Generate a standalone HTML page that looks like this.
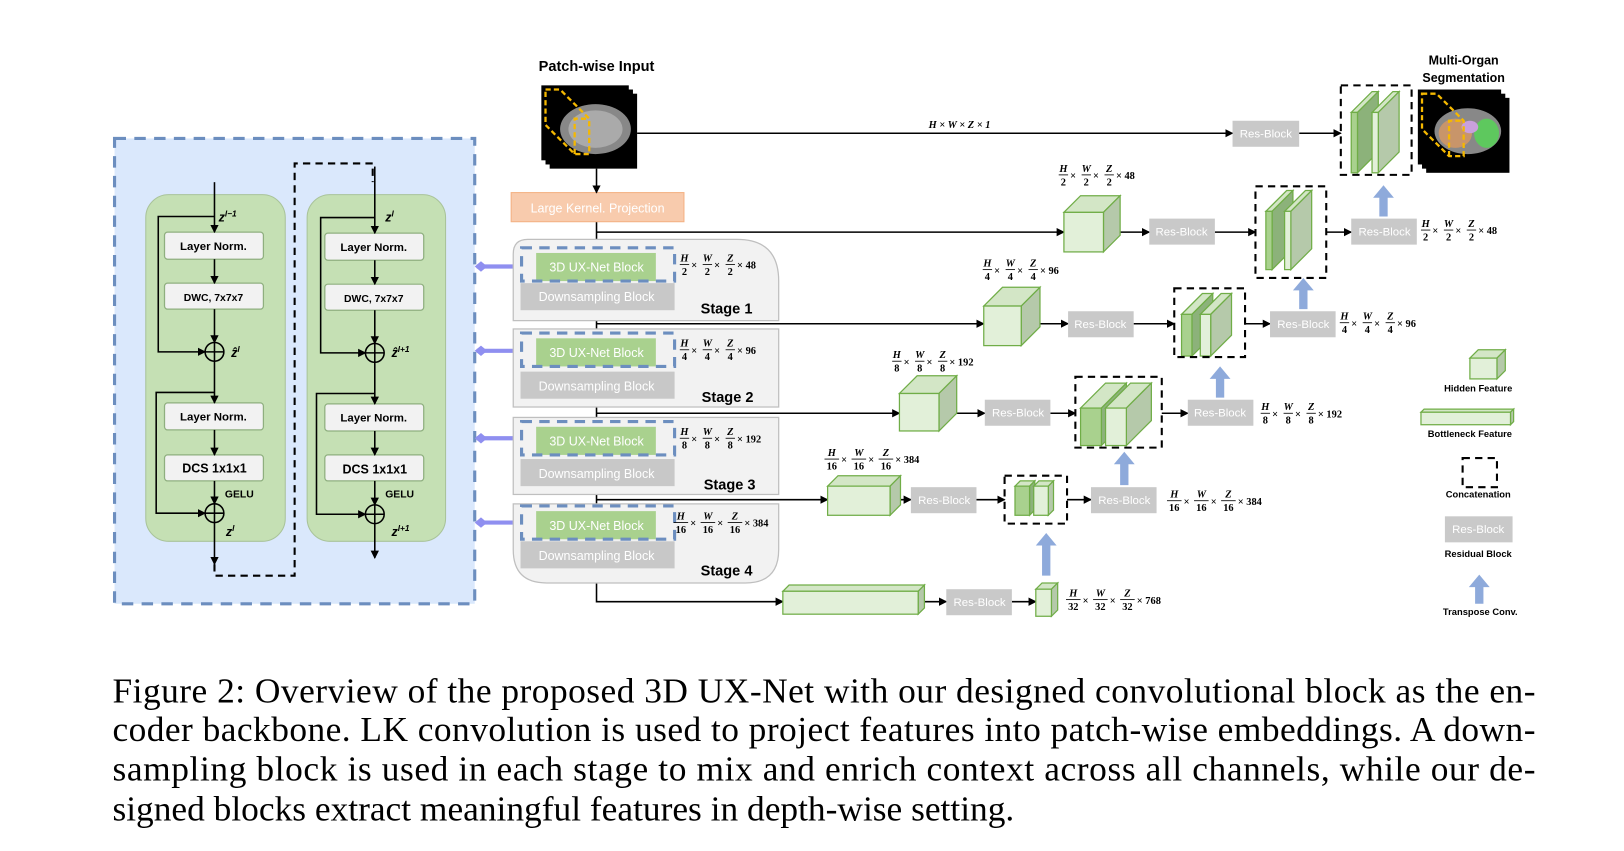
<!DOCTYPE html>
<html><head><meta charset="utf-8"><style>
html,body{margin:0;padding:0;background:#fff}
svg{display:block}
text{font-family:"Liberation Sans",sans-serif}
.b{font-weight:bold}
text.f{font-family:"Liberation Serif",serif;font-style:italic;font-weight:bold;font-size:10px}
text.n{font-family:"Liberation Serif",serif;font-weight:bold;font-size:10px}
.bx{fill:#f2f2f2;stroke:#8faf7f;stroke-width:1.2}
.rb{fill:#c9c9c9}
.rt{fill:#fff;font-size:11px;text-anchor:middle}
.ln{stroke:#000;stroke-width:1.5;fill:none}
.cf{fill:#e2f0d9;stroke:#70ad47;stroke-width:1.2}
.ct{fill:#d3e6c6;stroke:#70ad47;stroke-width:1.2}
.cs{fill:#b5c9aa;stroke:#70ad47;stroke-width:1.2}
.df{fill:#a9d18e;stroke:#70ad47;stroke-width:1.2}
.ds{fill:#8cb27a;stroke:#70ad47;stroke-width:1.2}
.cc{fill:none;stroke:#000;stroke-width:2;stroke-dasharray:7 5}
.cap text{font-family:"Liberation Serif",serif;font-size:34px}
</style></head><body>
<svg width="1624" height="851" viewBox="0 0 1560 817.5" xmlns="http://www.w3.org/2000/svg">
<defs>
<marker id="a" markerWidth="8" markerHeight="8" refX="7" refY="4" orient="auto" markerUnits="userSpaceOnUse"><path d="M0,0 L8,4 L0,8 z" fill="#000"/></marker>
</defs>
<rect x="110" y="133" width="346" height="447" fill="#dae8fc" stroke="#6c8ebf" stroke-width="3" stroke-dasharray="11 8"/>
<rect x="140" y="187" width="134" height="333" rx="22" fill="#c5e0b4" stroke="#a9c39a"/>
<rect x="295" y="187" width="133" height="333" rx="22" fill="#c5e0b4" stroke="#a9c39a"/>
<g font-size="11" class="b" text-anchor="middle">
<rect x="158" y="223" width="95" height="26" rx="3" class="bx"/><text x="205" y="240">Layer Norm.</text>
<rect x="158" y="272" width="95" height="25" rx="3" class="bx"/><text x="205" y="289" font-size="10">DWC, 7x7x7</text>
<rect x="158" y="387" width="95" height="26" rx="3" class="bx"/><text x="205" y="404">Layer Norm.</text>
<rect x="158" y="437" width="95" height="25" rx="3" class="bx"/><text x="206" y="454" font-size="12">DCS 1x1x1</text>
<rect x="312" y="224" width="95" height="26" rx="3" class="bx"/><text x="359" y="241">Layer Norm.</text>
<rect x="312" y="273" width="95" height="25" rx="3" class="bx"/><text x="359" y="290" font-size="10">DWC, 7x7x7</text>
<rect x="312" y="388" width="95" height="26" rx="3" class="bx"/><text x="359" y="405">Layer Norm.</text>
<rect x="312" y="437" width="95" height="25" rx="3" class="bx"/><text x="360" y="455" font-size="12">DCS 1x1x1</text>
</g>
<g class="ln">
<path d="M206,175 V223" marker-end="url(#a)"/><path d="M206,249 V272" marker-end="url(#a)"/><path d="M206,297 V329" marker-end="url(#a)"/>
<path d="M206,347 V387" marker-end="url(#a)"/><path d="M206,413 V437" marker-end="url(#a)"/><path d="M206,462 V484" marker-end="url(#a)"/>
<path d="M206,502 V542" marker-end="url(#a)"/>
<path d="M206,208 H152 V338 H197" marker-end="url(#a)"/><path d="M206,377 H150 V493 H197" marker-end="url(#a)"/>
<circle cx="206" cy="338" r="9"/><path d="M197,338H215M206,329V347"/>
<circle cx="206" cy="493" r="9"/><path d="M197,493H215M206,484V502"/>
<path d="M360,160 V224" marker-end="url(#a)"/><path d="M360,250 V273" marker-end="url(#a)"/><path d="M360,298 V330" marker-end="url(#a)"/>
<path d="M360,348 V388" marker-end="url(#a)"/><path d="M360,414 V437" marker-end="url(#a)"/><path d="M360,462 V485" marker-end="url(#a)"/>
<path d="M360,503 V536" marker-end="url(#a)"/>
<path d="M360,209 H308 V339 H351" marker-end="url(#a)"/><path d="M360,378 H304 V494 H351" marker-end="url(#a)"/>
<circle cx="360" cy="339" r="9"/><path d="M351,339H369M360,330V348"/>
<circle cx="360" cy="494" r="9"/><path d="M351,494H369M360,485V503"/>
</g>
<path d="M206,542 V553 H283 V157 H358 V175" fill="none" stroke="#000" stroke-width="2" stroke-dasharray="7 5"/>
<g font-family="Liberation Serif,serif" font-weight="bold" font-style="italic" font-size="12">
<text x="210" y="213" font-family="Liberation Serif,serif">z<tspan font-size="8" dy="-5">l−1</tspan></text>
<text x="222" y="343" font-family="Liberation Serif,serif">ẑ<tspan font-size="8" dy="-5">l</tspan></text>
<text x="217" y="515" font-family="Liberation Serif,serif">z<tspan font-size="8" dy="-5">l</tspan></text>
<text x="370" y="213" font-family="Liberation Serif,serif">z<tspan font-size="8" dy="-5">l</tspan></text>
<text x="376" y="343" font-family="Liberation Serif,serif">ẑ<tspan font-size="8" dy="-5">l+1</tspan></text>
<text x="376" y="515" font-family="Liberation Serif,serif">z<tspan font-size="8" dy="-5">l+1</tspan></text>
</g>
<text x="216" y="478" font-size="10" class="b">GELU</text><text x="370" y="478" font-size="10" class="b">GELU</text>
<g stroke="#8f8ff0" stroke-width="4" fill="#8f8ff0">
<path d="M458,256H500"/><path d="M458,337H500"/><path d="M458,421H500"/><path d="M458,502H500"/>
</g>
<g fill="#8f8ff0"><path d="M456,256l6,-5l6,5l-6,5z"/><path d="M456,337l6,-5l6,5l-6,5z"/><path d="M456,421l6,-5l6,5l-6,5z"/><path d="M456,502l6,-5l6,5l-6,5z"/>
<path d="M500,256l-6,-6v12z"/><path d="M500,337l-6,-6v12z"/><path d="M500,421l-6,-6v12z"/><path d="M500,502l-6,-6v12z"/></g>
<path class="ln" d="M573,213 V578 H752" marker-end="url(#a)"/>
<g fill="#f2f2f2" stroke="#bfbfbf" stroke-width="1.2">
<path d="M493,308 V244 Q493,230 507,230 H708 Q748,230 748,270 V308 Z"/>
<rect x="493" y="316" width="255" height="75"/>
<rect x="493" y="401" width="255" height="74"/>
<path d="M493,484 H748 V528 Q748,560 716,560 H525 Q493,560 493,528 Z"/>
</g>
<g>
<rect x="500" y="272" width="148" height="26" fill="#c8c8c8"/><rect x="500" y="357" width="148" height="26" fill="#c8c8c8"/>
<rect x="500" y="441" width="148" height="26" fill="#c8c8c8"/><rect x="500" y="520" width="148" height="26" fill="#c8c8c8"/>
<rect x="515" y="243" width="115" height="27" fill="#a9d18e"/><rect x="515" y="325" width="115" height="27" fill="#a9d18e"/>
<rect x="515" y="410" width="115" height="27" fill="#a9d18e"/><rect x="515" y="491" width="115" height="27" fill="#a9d18e"/>
</g>
<g fill="none" stroke="#6c8ebf" stroke-width="3" stroke-dasharray="10 7">
<rect x="501" y="238" width="147" height="32"/><rect x="501" y="320" width="147" height="32"/>
<rect x="501" y="405" width="147" height="32"/><rect x="501" y="486" width="147" height="32"/>
</g>
<g fill="#fff" font-size="12" text-anchor="middle">
<text x="573" y="261">3D UX-Net Block</text><text x="573" y="343">3D UX-Net Block</text>
<text x="573" y="428">3D UX-Net Block</text><text x="573" y="509">3D UX-Net Block</text>
<text x="573" y="289">Downsampling Block</text><text x="573" y="375">Downsampling Block</text>
<text x="573" y="459">Downsampling Block</text><text x="573" y="538">Downsampling Block</text>
</g>
<g class="b" font-size="14"><text x="673" y="301">Stage 1</text><text x="674" y="386">Stage 2</text><text x="676" y="470">Stage 3</text><text x="673" y="553">Stage 4</text></g>
<text x="573" y="68" class="b" font-size="14" text-anchor="middle">Patch-wise Input</text>
<rect x="528" y="90" width="84" height="72" fill="#000"/><rect x="524" y="86" width="84" height="72" fill="#000"/><rect x="520" y="82" width="84" height="72" fill="#000"/>
<ellipse cx="572" cy="124" rx="34" ry="24" fill="#888"/><ellipse cx="572" cy="124" rx="26" ry="18" fill="#aaa"/>
<path d="M524,86 H538 L566,114 V148 H552 L524,120 Z M552,148 V114 H566" fill="none" stroke="#f5b800" stroke-width="2.2" stroke-dasharray="5 3"/>
<rect x="491" y="185" width="166" height="28" fill="#f8cbad" stroke="#f4b183"/>
<text x="574" y="204" fill="#fff" font-size="12" text-anchor="middle">Large Kernel. Projection</text>
<g class="ln">
<path d="M573,162 V185" marker-end="url(#a)"/>
<path d="M612,128 H1184" marker-end="url(#a)"/>
<path d="M1248,128 H1288" marker-end="url(#a)"/>
<path d="M573,223 H1022" marker-end="url(#a)"/>
<path d="M1060,223 H1104" marker-end="url(#a)"/>
<path d="M1167,223 H1206" marker-end="url(#a)"/>
<path d="M1274,223 H1298" marker-end="url(#a)"/>
<path d="M573,311 H945" marker-end="url(#a)"/>
<path d="M981,311 H1026" marker-end="url(#a)"/>
<path d="M1089,311 H1128" marker-end="url(#a)"/>
<path d="M1196,311 H1220" marker-end="url(#a)"/>
<path d="M573,397 H864" marker-end="url(#a)"/>
<path d="M902,397 H946" marker-end="url(#a)"/>
<path d="M1009,397 H1033" marker-end="url(#a)"/>
<path d="M1116,397 H1141" marker-end="url(#a)"/>
<path d="M573,480 H795" marker-end="url(#a)"/>
<path d="M855,480 H875" marker-end="url(#a)"/>
<path d="M938,480 H965" marker-end="url(#a)"/>
<path d="M1025,480 H1048" marker-end="url(#a)"/>
<path d="M888,578 H909" marker-end="url(#a)"/>
<path d="M972,578 H995" marker-end="url(#a)"/>
</g>
<text x="892" y="123" class="f" font-size="11">H × W × Z × 1</text>
<g>
<path class="ct" d="M1022,204 L1038,188 H1076 L1060,204 Z"/><path class="cs" d="M1060,204 L1076,188 V226 L1060,242 Z"/><rect class="cf" x="1022" y="204" width="38" height="38"/>
<path class="ct" d="M945,294 L963,276 H999 L981,294 Z"/><path class="cs" d="M981,294 L999,276 V314 L981,332 Z"/><rect class="cf" x="945" y="294" width="36" height="38"/>
<path class="ct" d="M864,378 L881,361 H919 L902,378 Z"/><path class="cs" d="M902,378 L919,361 V397 L902,414 Z"/><rect class="cf" x="864" y="378" width="38" height="36"/>
<path class="ct" d="M795,467 L805,457 H865 L855,467 Z"/><path class="cs" d="M855,467 L865,457 V485 L855,495 Z"/><rect class="cf" x="795" y="467" width="60" height="28"/>
<path class="ct" d="M752,568 L758,562 H888 L882,568 Z"/><path class="cs" d="M882,568 L888,562 V584 L882,590 Z"/><rect class="cf" x="752" y="568" width="130" height="22"/>
<path class="ct" d="M995,566 L1001,560 H1016 L1010,566 Z"/><path class="cs" d="M1010,566 L1016,560 V586 L1010,592 Z"/><rect class="cf" x="995" y="566" width="15" height="26"/>
<path class="ct" d="M1412,344 L1420,336 H1446 L1438,344 Z"/><path class="cs" d="M1438,344 L1446,336 V356 L1438,364 Z"/><rect class="cf" x="1412" y="344" width="26" height="20"/>
<path class="ct" d="M1365,396 L1368,393 H1454 L1451,396 Z"/><path class="cs" d="M1451,396 L1454,393 V405 L1451,408 Z"/><rect class="cf" x="1365" y="396" width="86" height="12"/>
</g>
<g>
<path class="ct" d="M1298,108 L1318,88 H1324 L1304,108Z"/><path class="ds" d="M1304,108 L1324,88 V146 L1304,166Z"/><rect class="df" x="1298" y="108" width="6" height="58"/>
<path class="ct" d="M1318,108 L1338,88 H1344 L1324,108Z"/><path class="cs" d="M1324,108 L1344,88 V146 L1324,166Z"/><rect class="cf" x="1318" y="108" width="6" height="58"/>
<path class="ct" d="M1216,203 L1236,183 H1242 L1222,203Z"/><path class="ds" d="M1222,203 L1242,183 V239 L1222,259Z"/><rect class="df" x="1216" y="203" width="6" height="56"/>
<path class="ct" d="M1234,203 L1254,183 H1260 L1240,203Z"/><path class="cs" d="M1240,203 L1260,183 V239 L1240,259Z"/><rect class="cf" x="1234" y="203" width="6" height="56"/>
<path class="ct" d="M1135,302 L1155,282 H1165 L1145,302Z"/><path class="ds" d="M1145,302 L1165,282 V322 L1145,342Z"/><rect class="df" x="1135" y="302" width="10" height="40"/>
<path class="ct" d="M1153,302 L1173,282 H1183 L1163,302Z"/><path class="cs" d="M1163,302 L1183,282 V322 L1163,342Z"/><rect class="cf" x="1153" y="302" width="10" height="40"/>
<path class="ct" d="M1038,392 L1062,368 H1082 L1058,392Z"/><path class="ds" d="M1058,392 L1082,368 V404 L1058,428Z"/><rect class="df" x="1038" y="392" width="20" height="36"/>
<path class="ct" d="M1062,392 L1086,368 H1106 L1082,392Z"/><path class="cs" d="M1082,392 L1106,368 V404 L1082,428Z"/><rect class="cf" x="1062" y="392" width="20" height="36"/>
<path class="ct" d="M975,467 L980,462 H994 L989,467Z"/><path class="ds" d="M989,467 L994,462 V490 L989,495Z"/><rect class="df" x="975" y="467" width="14" height="28"/>
<path class="ct" d="M993,467 L998,462 H1012 L1007,467Z"/><path class="cs" d="M1007,467 L1012,462 V490 L1007,495Z"/><rect class="cf" x="993" y="467" width="14" height="28"/>
</g>
<rect class="cc" x="1288" y="82" width="68" height="86"/>
<rect class="cc" x="1206" y="179" width="68" height="88"/>
<rect class="cc" x="1128" y="277" width="68" height="66"/>
<rect class="cc" x="1033" y="362" width="83" height="68"/>
<rect class="cc" x="965" y="457" width="60" height="46"/>
<rect class="cc" x="1405" y="440" width="33" height="28"/>
<g>
<rect class="rb" x="1184" y="116" width="64" height="25"/><text class="rt" x="1216" y="132">Res-Block</text>
<rect class="rb" x="1104" y="210" width="63" height="25"/><text class="rt" x="1135" y="226">Res-Block</text>
<rect class="rb" x="1298" y="210" width="63" height="25"/><text class="rt" x="1330" y="226">Res-Block</text>
<rect class="rb" x="1026" y="299" width="63" height="25"/><text class="rt" x="1057" y="315">Res-Block</text>
<rect class="rb" x="1220" y="299" width="63" height="25"/><text class="rt" x="1252" y="315">Res-Block</text>
<rect class="rb" x="946" y="384" width="63" height="25"/><text class="rt" x="978" y="400">Res-Block</text>
<rect class="rb" x="1141" y="384" width="63" height="25"/><text class="rt" x="1172" y="400">Res-Block</text>
<rect class="rb" x="875" y="468" width="63" height="25"/><text class="rt" x="907" y="484">Res-Block</text>
<rect class="rb" x="1048" y="468" width="63" height="25"/><text class="rt" x="1080" y="484">Res-Block</text>
<rect class="rb" x="909" y="566" width="63" height="25"/><text class="rt" x="941" y="582">Res-Block</text>
<rect class="rb" x="1388" y="496" width="65" height="25"/><text class="rt" x="1420" y="512">Res-Block</text>
</g>
<g fill="#8eaadb">
<path d="M1325,208 V190 H1319 L1329,178 L1339,190 H1333 V208Z"/>
<path d="M1248,297 V279 H1242 L1252,267 L1262,279 H1256 V297Z"/>
<path d="M1168,382 V364 H1162 L1172,352 L1182,364 H1176 V382Z"/>
<path d="M1076,466 V446 H1070 L1080,434 L1090,446 H1084 V466Z"/>
<path d="M1001,553 V524 H995 L1005,512 L1015,524 H1009 V553Z"/>
<path d="M1417,580 V564 H1411 L1421,552 L1431,564 H1425 V580Z"/>
</g>
<text x="1406" y="62" class="b" font-size="12" text-anchor="middle">Multi-Organ</text>
<text x="1406" y="79" class="b" font-size="12" text-anchor="middle">Segmentation</text>
<rect x="1370" y="94" width="80" height="72" fill="#000"/><rect x="1366" y="90" width="80" height="72" fill="#000"/><rect x="1362" y="86" width="80" height="72" fill="#000"/>
<ellipse cx="1410" cy="126" rx="32" ry="22" fill="#888"/><ellipse cx="1398" cy="128" rx="16" ry="14" fill="#c8956a"/><ellipse cx="1428" cy="128" rx="12" ry="14" fill="#5ec85e"/><ellipse cx="1412" cy="122" rx="8" ry="6" fill="#c9a0dc"/>
<path d="M1366,90 H1380 L1406,116 V150 H1392 L1366,124 Z M1392,150 V116 H1406" fill="none" stroke="#f5b800" stroke-width="2.2" stroke-dasharray="5 3"/>
<g class="b" font-size="9" text-anchor="middle">
<text x="1420" y="376">Hidden Feature</text><text x="1412" y="420">Bottleneck Feature</text>
<text x="1420" y="478">Concatenation</text><text x="1420" y="535">Residual Block</text><text x="1422" y="591">Transpose Conv.</text>
</g>
<g stroke="#000" stroke-width="0.8">
<g transform="translate(653,255)"><text class="f" x="4.5" y="-4" stroke="none" text-anchor="middle">H</text><line x1="0" x2="9" y1="-1" y2="-1"/><text class="n" x="4.5" y="9" stroke="none" text-anchor="middle">2</text><text class="n" x="11" y="3" stroke="none">×</text><text class="f" x="26.5" y="-4" stroke="none" text-anchor="middle">W</text><line x1="22" x2="31" y1="-1" y2="-1"/><text class="n" x="26.5" y="9" stroke="none" text-anchor="middle">2</text><text class="n" x="33" y="3" stroke="none">×</text><text class="f" x="48.5" y="-4" stroke="none" text-anchor="middle">Z</text><line x1="44" x2="53" y1="-1" y2="-1"/><text class="n" x="48.5" y="9" stroke="none" text-anchor="middle">2</text><text class="n" x="55" y="3" stroke="none">× 48</text></g>
<g transform="translate(1017,169)"><text class="f" x="4.5" y="-4" stroke="none" text-anchor="middle">H</text><line x1="0" x2="9" y1="-1" y2="-1"/><text class="n" x="4.5" y="9" stroke="none" text-anchor="middle">2</text><text class="n" x="11" y="3" stroke="none">×</text><text class="f" x="26.5" y="-4" stroke="none" text-anchor="middle">W</text><line x1="22" x2="31" y1="-1" y2="-1"/><text class="n" x="26.5" y="9" stroke="none" text-anchor="middle">2</text><text class="n" x="33" y="3" stroke="none">×</text><text class="f" x="48.5" y="-4" stroke="none" text-anchor="middle">Z</text><line x1="44" x2="53" y1="-1" y2="-1"/><text class="n" x="48.5" y="9" stroke="none" text-anchor="middle">2</text><text class="n" x="55" y="3" stroke="none">× 48</text></g>
<g transform="translate(1365,222)"><text class="f" x="4.5" y="-4" stroke="none" text-anchor="middle">H</text><line x1="0" x2="9" y1="-1" y2="-1"/><text class="n" x="4.5" y="9" stroke="none" text-anchor="middle">2</text><text class="n" x="11" y="3" stroke="none">×</text><text class="f" x="26.5" y="-4" stroke="none" text-anchor="middle">W</text><line x1="22" x2="31" y1="-1" y2="-1"/><text class="n" x="26.5" y="9" stroke="none" text-anchor="middle">2</text><text class="n" x="33" y="3" stroke="none">×</text><text class="f" x="48.5" y="-4" stroke="none" text-anchor="middle">Z</text><line x1="44" x2="53" y1="-1" y2="-1"/><text class="n" x="48.5" y="9" stroke="none" text-anchor="middle">2</text><text class="n" x="55" y="3" stroke="none">× 48</text></g>
<g transform="translate(653,337)"><text class="f" x="4.5" y="-4" stroke="none" text-anchor="middle">H</text><line x1="0" x2="9" y1="-1" y2="-1"/><text class="n" x="4.5" y="9" stroke="none" text-anchor="middle">4</text><text class="n" x="11" y="3" stroke="none">×</text><text class="f" x="26.5" y="-4" stroke="none" text-anchor="middle">W</text><line x1="22" x2="31" y1="-1" y2="-1"/><text class="n" x="26.5" y="9" stroke="none" text-anchor="middle">4</text><text class="n" x="33" y="3" stroke="none">×</text><text class="f" x="48.5" y="-4" stroke="none" text-anchor="middle">Z</text><line x1="44" x2="53" y1="-1" y2="-1"/><text class="n" x="48.5" y="9" stroke="none" text-anchor="middle">4</text><text class="n" x="55" y="3" stroke="none">× 96</text></g>
<g transform="translate(944,260)"><text class="f" x="4.5" y="-4" stroke="none" text-anchor="middle">H</text><line x1="0" x2="9" y1="-1" y2="-1"/><text class="n" x="4.5" y="9" stroke="none" text-anchor="middle">4</text><text class="n" x="11" y="3" stroke="none">×</text><text class="f" x="26.5" y="-4" stroke="none" text-anchor="middle">W</text><line x1="22" x2="31" y1="-1" y2="-1"/><text class="n" x="26.5" y="9" stroke="none" text-anchor="middle">4</text><text class="n" x="33" y="3" stroke="none">×</text><text class="f" x="48.5" y="-4" stroke="none" text-anchor="middle">Z</text><line x1="44" x2="53" y1="-1" y2="-1"/><text class="n" x="48.5" y="9" stroke="none" text-anchor="middle">4</text><text class="n" x="55" y="3" stroke="none">× 96</text></g>
<g transform="translate(1287,311)"><text class="f" x="4.5" y="-4" stroke="none" text-anchor="middle">H</text><line x1="0" x2="9" y1="-1" y2="-1"/><text class="n" x="4.5" y="9" stroke="none" text-anchor="middle">4</text><text class="n" x="11" y="3" stroke="none">×</text><text class="f" x="26.5" y="-4" stroke="none" text-anchor="middle">W</text><line x1="22" x2="31" y1="-1" y2="-1"/><text class="n" x="26.5" y="9" stroke="none" text-anchor="middle">4</text><text class="n" x="33" y="3" stroke="none">×</text><text class="f" x="48.5" y="-4" stroke="none" text-anchor="middle">Z</text><line x1="44" x2="53" y1="-1" y2="-1"/><text class="n" x="48.5" y="9" stroke="none" text-anchor="middle">4</text><text class="n" x="55" y="3" stroke="none">× 96</text></g>
<g transform="translate(653,422)"><text class="f" x="4.5" y="-4" stroke="none" text-anchor="middle">H</text><line x1="0" x2="9" y1="-1" y2="-1"/><text class="n" x="4.5" y="9" stroke="none" text-anchor="middle">8</text><text class="n" x="11" y="3" stroke="none">×</text><text class="f" x="26.5" y="-4" stroke="none" text-anchor="middle">W</text><line x1="22" x2="31" y1="-1" y2="-1"/><text class="n" x="26.5" y="9" stroke="none" text-anchor="middle">8</text><text class="n" x="33" y="3" stroke="none">×</text><text class="f" x="48.5" y="-4" stroke="none" text-anchor="middle">Z</text><line x1="44" x2="53" y1="-1" y2="-1"/><text class="n" x="48.5" y="9" stroke="none" text-anchor="middle">8</text><text class="n" x="55" y="3" stroke="none">× 192</text></g>
<g transform="translate(857,348)"><text class="f" x="4.5" y="-4" stroke="none" text-anchor="middle">H</text><line x1="0" x2="9" y1="-1" y2="-1"/><text class="n" x="4.5" y="9" stroke="none" text-anchor="middle">8</text><text class="n" x="11" y="3" stroke="none">×</text><text class="f" x="26.5" y="-4" stroke="none" text-anchor="middle">W</text><line x1="22" x2="31" y1="-1" y2="-1"/><text class="n" x="26.5" y="9" stroke="none" text-anchor="middle">8</text><text class="n" x="33" y="3" stroke="none">×</text><text class="f" x="48.5" y="-4" stroke="none" text-anchor="middle">Z</text><line x1="44" x2="53" y1="-1" y2="-1"/><text class="n" x="48.5" y="9" stroke="none" text-anchor="middle">8</text><text class="n" x="55" y="3" stroke="none">× 192</text></g>
<g transform="translate(1211,398)"><text class="f" x="4.5" y="-4" stroke="none" text-anchor="middle">H</text><line x1="0" x2="9" y1="-1" y2="-1"/><text class="n" x="4.5" y="9" stroke="none" text-anchor="middle">8</text><text class="n" x="11" y="3" stroke="none">×</text><text class="f" x="26.5" y="-4" stroke="none" text-anchor="middle">W</text><line x1="22" x2="31" y1="-1" y2="-1"/><text class="n" x="26.5" y="9" stroke="none" text-anchor="middle">8</text><text class="n" x="33" y="3" stroke="none">×</text><text class="f" x="48.5" y="-4" stroke="none" text-anchor="middle">Z</text><line x1="44" x2="53" y1="-1" y2="-1"/><text class="n" x="48.5" y="9" stroke="none" text-anchor="middle">8</text><text class="n" x="55" y="3" stroke="none">× 192</text></g>
<g transform="translate(647,503)"><text class="f" x="7" y="-4" stroke="none" text-anchor="middle">H</text><line x1="0" x2="14" y1="-1" y2="-1"/><text class="n" x="7" y="9" stroke="none" text-anchor="middle">16</text><text class="n" x="16" y="3" stroke="none">×</text><text class="f" x="33" y="-4" stroke="none" text-anchor="middle">W</text><line x1="26" x2="40" y1="-1" y2="-1"/><text class="n" x="33" y="9" stroke="none" text-anchor="middle">16</text><text class="n" x="42" y="3" stroke="none">×</text><text class="f" x="59" y="-4" stroke="none" text-anchor="middle">Z</text><line x1="52" x2="66" y1="-1" y2="-1"/><text class="n" x="59" y="9" stroke="none" text-anchor="middle">16</text><text class="n" x="68" y="3" stroke="none">× 384</text></g>
<g transform="translate(792,442)"><text class="f" x="7" y="-4" stroke="none" text-anchor="middle">H</text><line x1="0" x2="14" y1="-1" y2="-1"/><text class="n" x="7" y="9" stroke="none" text-anchor="middle">16</text><text class="n" x="16" y="3" stroke="none">×</text><text class="f" x="33" y="-4" stroke="none" text-anchor="middle">W</text><line x1="26" x2="40" y1="-1" y2="-1"/><text class="n" x="33" y="9" stroke="none" text-anchor="middle">16</text><text class="n" x="42" y="3" stroke="none">×</text><text class="f" x="59" y="-4" stroke="none" text-anchor="middle">Z</text><line x1="52" x2="66" y1="-1" y2="-1"/><text class="n" x="59" y="9" stroke="none" text-anchor="middle">16</text><text class="n" x="68" y="3" stroke="none">× 384</text></g>
<g transform="translate(1121,482)"><text class="f" x="7" y="-4" stroke="none" text-anchor="middle">H</text><line x1="0" x2="14" y1="-1" y2="-1"/><text class="n" x="7" y="9" stroke="none" text-anchor="middle">16</text><text class="n" x="16" y="3" stroke="none">×</text><text class="f" x="33" y="-4" stroke="none" text-anchor="middle">W</text><line x1="26" x2="40" y1="-1" y2="-1"/><text class="n" x="33" y="9" stroke="none" text-anchor="middle">16</text><text class="n" x="42" y="3" stroke="none">×</text><text class="f" x="59" y="-4" stroke="none" text-anchor="middle">Z</text><line x1="52" x2="66" y1="-1" y2="-1"/><text class="n" x="59" y="9" stroke="none" text-anchor="middle">16</text><text class="n" x="68" y="3" stroke="none">× 384</text></g>
<g transform="translate(1024,577)"><text class="f" x="7" y="-4" stroke="none" text-anchor="middle">H</text><line x1="0" x2="14" y1="-1" y2="-1"/><text class="n" x="7" y="9" stroke="none" text-anchor="middle">32</text><text class="n" x="16" y="3" stroke="none">×</text><text class="f" x="33" y="-4" stroke="none" text-anchor="middle">W</text><line x1="26" x2="40" y1="-1" y2="-1"/><text class="n" x="33" y="9" stroke="none" text-anchor="middle">32</text><text class="n" x="42" y="3" stroke="none">×</text><text class="f" x="59" y="-4" stroke="none" text-anchor="middle">Z</text><line x1="52" x2="66" y1="-1" y2="-1"/><text class="n" x="59" y="9" stroke="none" text-anchor="middle">32</text><text class="n" x="68" y="3" stroke="none">× 768</text></g>
</g>
<g class="cap">
<text x="108" y="675" textLength="1367" lengthAdjust="spacing">Figure 2: Overview of the proposed 3D UX-Net with our designed convolutional block as the en-</text>
<text x="108" y="712" textLength="1367" lengthAdjust="spacing">coder backbone. LK convolution is used to project features into patch-wise embeddings. A down-</text>
<text x="108" y="750" textLength="1367" lengthAdjust="spacing">sampling block is used in each stage to mix and enrich context across all channels, while our de-</text>
<text x="108" y="788">signed blocks extract meaningful features in depth-wise setting.</text>
</g>
</svg>
</body></html>
